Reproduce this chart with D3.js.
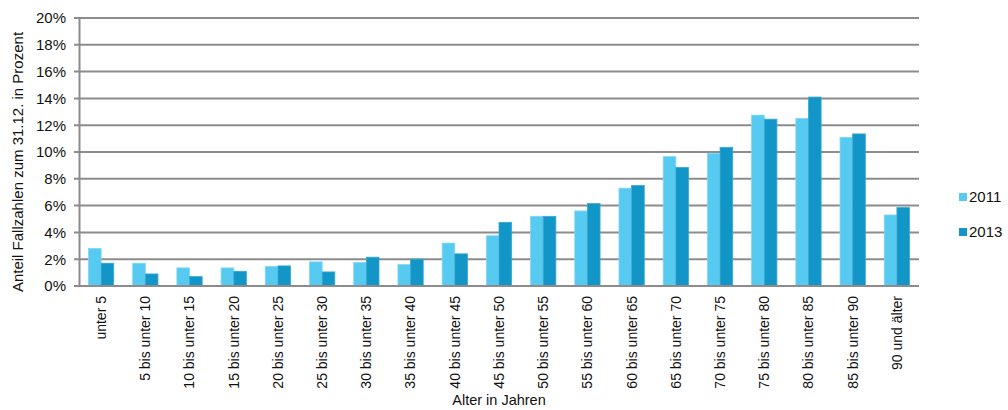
<!DOCTYPE html>
<html>
<head>
<meta charset="utf-8">
<script src="https://cdn.jsdelivr.net/npm/d3@7"></script>
<style>
  html, body { margin: 0; padding: 0; background: #fff; }
  svg { display: block; font-family: "Liberation Sans", Arial, sans-serif; }
</style>
</head>
<body>
<svg id="chart" width="1008" height="410"></svg>
<script>
// Age groups
const categories = [
  "unter 5", "5 bis unter 10", "10 bis unter 15", "15 bis unter 20",
  "20 bis unter 25", "25 bis unter 30", "30 bis unter 35", "35 bis unter 40",
  "40 bis unter 45", "45 bis unter 50", "50 bis unter 55", "55 bis unter 60",
  "60 bis unter 65", "65 bis unter 70", "70 bis unter 75", "75 bis unter 80",
  "80 bis unter 85", "85 bis unter 90", "90 und älter"
];

// Share of cases per age group (percent)
const values2011 = [2.8, 1.7, 1.35, 1.35, 1.45, 1.8, 1.75, 1.6, 3.2, 3.75, 5.2, 5.6, 7.3, 9.65, 9.9, 12.75, 12.5, 11.1, 5.3];
const values2013 = [1.7, 0.9, 0.7, 1.1, 1.5, 1.05, 2.15, 2.0, 2.4, 4.75, 5.2, 6.15, 7.5, 8.85, 10.35, 12.45, 14.1, 11.35, 5.85];

const seriesNames = ["2011", "2013"];
const yTicks = [0, 2, 4, 6, 8, 10, 12, 14, 16, 18, 20];

const colors = { "2011": "#57CAF2", "2013": "#1296C7" };
const strokes = { "2011": "#7FD6F5", "2013": "#3AA8D2" };

const margin = { left: 79, right: 89, top: 18, bottom: 124 };
const W = 1008, H = 410;
const svg = d3.select("#chart");

const x0 = d3.scaleBand()
  .domain(categories)
  .range([margin.left, W - margin.right])
  .paddingInner(0.428)
  .paddingOuter(0.214);

const x1 = d3.scaleBand()
  .domain(seriesNames)
  .range([0, x0.bandwidth()]);

const y = d3.scaleLinear()
  .domain([0, 20])
  .range([H - margin.bottom, margin.top]);

const gridColor = "#8C8C8C";

// Horizontal gridlines
svg.append("g")
  .selectAll("line")
  .data(yTicks)
  .join("line")
  .attr("x1", margin.left - 5)
  .attr("x2", W - margin.right)
  .attr("y1", d => y(d))
  .attr("y2", d => y(d))
  .attr("stroke", gridColor)
  .attr("stroke-width", 2);

// Y axis
const yAxis = svg.append("g")
  .attr("transform", `translate(${margin.left},0)`)
  .call(d3.axisLeft(y).tickValues(yTicks).tickFormat(d => d + "%").tickSize(0).tickPadding(13));
yAxis.select(".domain").attr("stroke", gridColor).attr("stroke-width", 2);
yAxis.selectAll("text").attr("font-size", 15).attr("fill", "#111").attr("font-family", "Liberation Sans, Arial, sans-serif");

// Bars
const rows = categories.map((c, i) => ({ cat: c, vals: [
  { key: "2011", v: values2011[i] },
  { key: "2013", v: values2013[i] }
]}));

svg.append("g")
  .selectAll("g")
  .data(rows)
  .join("g")
  .attr("transform", d => `translate(${x0(d.cat)},0)`)
  .selectAll("rect")
  .data(d => d.vals)
  .join("rect")
  .attr("x", d => x1(d.key))
  .attr("width", x1.bandwidth())
  .attr("y", d => y(d.v))
  .attr("height", d => y(0) - y(d.v))
  .attr("fill", d => colors[d.key])
  .attr("stroke", d => strokes[d.key])
  .attr("stroke-width", 0.8);

// Baseline redrawn over bars
svg.append("line")
  .attr("x1", margin.left - 5).attr("x2", W - margin.right)
  .attr("y1", y(0)).attr("y2", y(0))
  .attr("stroke", gridColor).attr("stroke-width", 2);

// X axis labels (rotated)
const xAxis = svg.append("g")
  .attr("transform", `translate(0,${y(0)})`)
  .call(d3.axisBottom(x0).tickSize(0).tickPadding(0));
xAxis.select(".domain").remove();
xAxis.selectAll("text")
  .attr("font-size", 14)
  .attr("fill", "#111")
  .attr("font-family", "Liberation Sans, Arial, sans-serif")
  .attr("transform", "rotate(-90)")
  .attr("text-anchor", "end")
  .attr("dy", "0.35em")
  .attr("x", -10)
  .attr("y", 0);

// Axis titles
svg.append("text")
  .attr("transform", `translate(23,162) rotate(-90)`)
  .attr("text-anchor", "middle")
  .attr("font-size", 15)
  .attr("fill", "#111")
  .text("Anteil Fallzahlen zum 31.12. in Prozent");

svg.append("text")
  .attr("x", 499)
  .attr("y", 405)
  .attr("text-anchor", "middle")
  .attr("font-size", 14.5)
  .attr("fill", "#111")
  .text("Alter in Jahren");

// Legend
const legend = svg.append("g")
  .selectAll("g")
  .data(seriesNames)
  .join("g")
  .attr("transform", (d, i) => `translate(959,${193 + i * 35})`);
legend.append("rect")
  .attr("width", 8).attr("height", 8)
  .attr("fill", d => colors[d]);
legend.append("text")
  .attr("x", 10)
  .attr("y", 9)
  .attr("font-size", 15)
  .attr("fill", "#111")
  .text(d => d);
</script>
</body>
</html>
